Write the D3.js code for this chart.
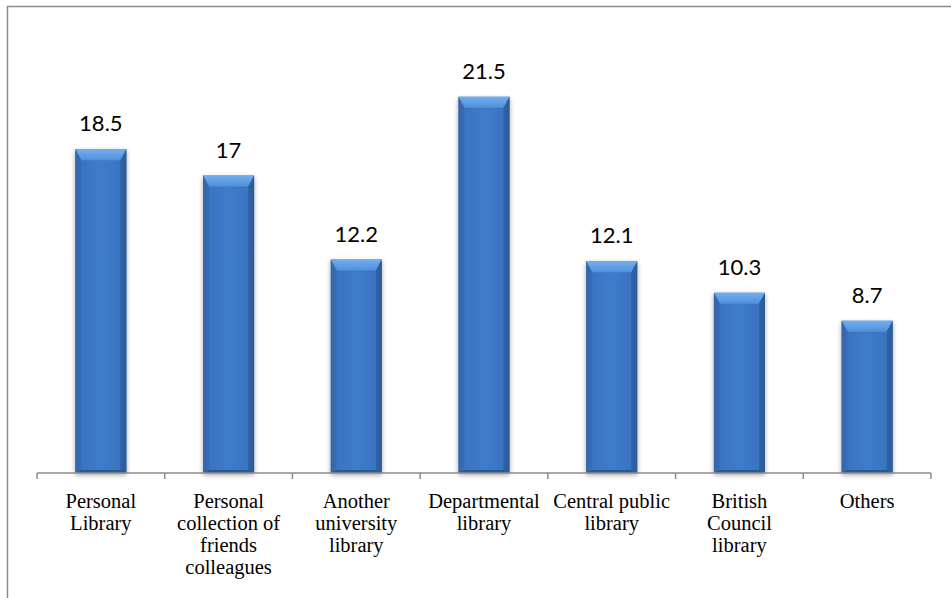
<!DOCTYPE html>
<html><head><meta charset="utf-8">
<script src="https://cdn.jsdelivr.net/npm/d3@7"></script>
<style>body{margin:0;background:#fff}svg{display:block}</style>
</head><body>
<svg id="c" width="951" height="598"></svg>
<script>
const categories = [
  ["Personal","Library"],
  ["Personal","collection of","friends","colleagues"],
  ["Another","university","library"],
  ["Departmental","library"],
  ["Central public","library"],
  ["British","Council","library"],
  ["Others"]
];
const values = [18.5, 17, 12.2, 21.5, 12.1, 10.3, 8.7];
const valueLabels = ["18.5","17","12.2","21.5","12.1","10.3","8.7"];

(function(){
const svg = d3.select("#c");
const left = 37, right = 931, base = 473, plotTop = 35.5;

svg.append("path").attr("d", `M7.5,598 V6.5 H951`).attr("fill","none")
  .attr("stroke","#8c8c8c").attr("stroke-width",1.5);

const defs = svg.append("defs");
const g1 = defs.append("linearGradient").attr("id","body").attr("x1","0").attr("x2","1").attr("y1","0").attr("y2","0");
[[0,"#2e5f9f"],[0.1,"#3a74c0"],[0.5,"#3e7bca"],[0.9,"#3a74c0"],[1,"#2d5c9a"]].forEach(([o,c])=>g1.append("stop").attr("offset",o).attr("stop-color",c));
const g2 = defs.append("linearGradient").attr("id","bev").attr("x1","0").attr("x2","0").attr("y1","0").attr("y2","1");
[[0,"#72afef"],[1,"#4f8fdc"]].forEach(([o,c])=>g2.append("stop").attr("offset",o).attr("stop-color",c));
const f = defs.append("filter").attr("id","sh").attr("x","-20%").attr("y","-10%").attr("width","140%").attr("height","120%");
f.append("feGaussianBlur").attr("in","SourceAlpha").attr("stdDeviation",2.5).attr("result","b");
f.append("feOffset").attr("in","b").attr("dx",0).attr("dy",2).attr("result","o");
f.append("feComponentTransfer").attr("in","o").attr("result","o2").append("feFuncA").attr("type","linear").attr("slope",0.35);
const m = f.append("feMerge"); m.append("feMergeNode").attr("in","o2"); m.append("feMergeNode").attr("in","SourceGraphic");

const x = d3.scaleBand().domain(d3.range(values.length)).range([left,right]).paddingInner(0.6).paddingOuter(0.3);
const y = d3.scaleLinear().domain([0,25]).range([base, plotTop]);

const bars = svg.append("g").selectAll("g").data(values).join("g").attr("filter","url(#sh)");
bars.each(function(v,i){
  const g = d3.select(this);
  const x0 = x(i), bw = x.bandwidth(), y0 = y(v), h = base - y0;
  g.append("rect").attr("x",x0).attr("y",y0).attr("width",bw).attr("height",h).attr("fill","url(#body)");
  const bt = 11, bs = 6;
  g.append("path").attr("d",`M${x0},${y0} H${x0+bw} L${x0+bw-bs},${y0+bt} H${x0+bs} Z`).attr("fill","url(#bev)");
  g.append("path").attr("d",`M${x0},${y0} L${x0+bs},${y0+bt} V${base-3} L${x0},${base} Z`).attr("fill","#3569ae").attr("opacity",0.7);
  g.append("path").attr("d",`M${x0+bw},${y0} L${x0+bw-bs},${y0+bt} V${base-3} L${x0+bw},${base} Z`).attr("fill","#2c5a96").attr("opacity",0.7);
  g.append("path").attr("d",`M${x0},${base} L${x0+bs},${base-3} H${x0+bw-bs} L${x0+bw},${base} Z`).attr("fill","#2b5791");
});

svg.append("g").selectAll("text").data(values).join("text")
  .style("font-family",'"Lato"').style("font-size","22px").style("fill","#000")
  .attr("x",(d,i)=>x(i)+x.bandwidth()/2).attr("y",d=>y(d)-18)
  .attr("text-anchor","middle")
  .text((d,i)=>valueLabels[i]);

const step = (right-left)/values.length;
const ax = svg.append("g").attr("stroke","#8c8c8c").attr("stroke-width",1.5);
ax.append("line").attr("x1",left).attr("x2",right).attr("y1",base).attr("y2",base);
d3.range(values.length+1).forEach(k=>{
  ax.append("line").attr("x1",left+k*step).attr("x2",left+k*step).attr("y1",base).attr("y2",base+6);
});

const cl = svg.append("g");
categories.forEach((lines,i)=>{
  const cx = x(i)+x.bandwidth()/2;
  const t = cl.append("text").style("font-family",'"Liberation Serif"').style("font-size","20.5px").style("fill","#000")
    .attr("text-anchor","middle").attr("x",cx).attr("y",508);
  lines.forEach((ln,j)=>t.append("tspan").attr("x",cx).attr("dy",j?22:0).text(ln));
});
})();
</script>
</body></html>
